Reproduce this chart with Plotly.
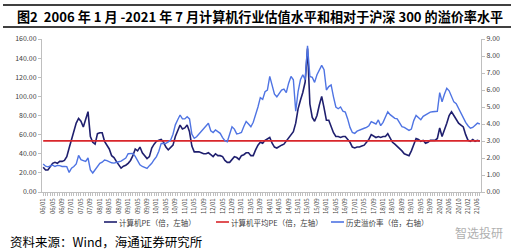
import plotly.graph_objects as go

# ---- categories: monthly, 2006/01 - 2021/07 (2020/01 absent in source) ----
months = []
for yr in range(2006, 2022):
    for mo in range(1, 13):
        if (yr, mo) == (2020, 1):
            continue
        if yr == 2021 and mo > 7:
            break
        months.append(f"{yr % 100:02d}/{mo:02d}")

# 计算机PE (倍, 左轴)
pe = [26, 23, 23, 27, 30, 31, 30, 32, 32, 33, 37, 46, 55, 62, 72, 77, 74, 68, 76, 84,
      58, 52, 50, 61, 62, 62, 53, 49, 45, 38, 36, 32, 28, 25, 27, 28, 30, 33, 38, 45,
      43, 47, 41, 38, 35, 37, 46, 50, 53, 54, 55, 52, 47, 44, 46, 49, 58, 65, 70, 66,
      67, 70, 63, 48, 42, 42, 42, 41, 40, 40, 41, 39, 37, 40, 38, 38, 37, 33, 31, 31,
      34, 37, 36, 34, 38, 39, 41, 41, 38, 38, 44, 49, 52, 51, 54, 56, 57, 51, 47, 46,
      48, 49, 50, 53, 57, 60, 63, 72, 87, 96, 104, 115, 150, 92, 78, 74, 80, 91, 100, 88,
      75, 75, 68, 62, 58, 58, 57, 58, 58, 55, 52, 47, 46, 47, 47, 48, 49, 52, 55, 60,
      58, 57, 58, 57, 58, 58, 61, 57, 52, 50, 48, 46, 43, 40, 39, 38, 43, 50, 56, 55,
      53, 54, 51, 52, 54, 54, 54, 56, 67, 58, 64, 72, 80, 84, 80, 76, 72, 70, 68, 60,
      54, 53, 55, 53, 54, 53]

# 计算机平均PE (倍, 左轴)
pe_avg_value = 53.5
pe_avg = [pe_avg_value] * len(months)

# 历史溢价率 (倍, 右轴)
premium = [1.65, 1.52, 1.48, 1.55, 1.58, 1.50, 1.56, 1.55, 1.50, 1.50, 1.49, 1.15, 1.40, 1.50, 1.65, 2.15, 1.90, 1.85, 1.80, 2.00,
           1.30, 1.12, 1.30, 1.50, 1.69, 1.75, 1.88, 1.85, 1.78, 1.72, 1.70, 1.72, 1.78, 1.82, 1.90, 2.00, 2.25, 2.27, 2.27, 2.10,
           1.85, 1.60, 1.50, 1.45, 1.39, 1.55, 1.69, 1.90, 2.08, 2.40, 2.86, 2.85, 2.86, 2.95, 3.05, 3.40, 3.95, 4.25, 4.53, 4.30,
           4.30, 4.43, 4.30, 3.40, 3.16, 3.25, 3.40, 3.55, 3.75, 3.90, 4.04, 3.60, 3.50, 3.65, 3.55, 3.45, 3.20, 3.02, 2.96, 3.40,
           3.84, 3.70, 3.42, 3.45, 3.50, 3.85, 4.15, 4.00, 3.84, 4.10, 4.50, 5.00, 5.55, 5.45, 5.90, 6.00, 6.80, 6.30, 5.75, 5.60,
           5.80, 6.00, 6.05, 5.85, 6.40, 6.80, 6.60, 4.75, 5.90, 6.60, 6.90, 6.60, 8.60, 6.80, 6.75, 6.45, 6.90, 7.20, 7.45, 7.20,
           6.00, 6.20, 6.30, 5.60, 5.00, 4.90, 5.00, 4.75, 4.70, 4.30, 3.80, 3.50, 3.45, 3.58, 3.65, 3.72, 3.75, 3.80, 3.90, 4.14,
           4.05, 4.00, 4.24, 3.90, 4.10, 4.45, 4.72, 4.55, 4.45, 4.33, 4.30, 4.05, 3.84, 3.80, 3.70, 3.62, 3.70, 4.20, 4.50, 4.40,
           4.25, 4.45, 4.53, 4.60, 4.70, 4.72, 4.72, 4.75, 5.85, 5.31, 5.75, 6.10, 5.95, 5.60, 5.30, 5.20, 4.90, 4.60, 4.35, 4.10,
           3.90, 3.75, 3.80, 3.95, 4.05, 4.00]

series_names = ["计算机PE（倍，左轴）", "计算机平均PE（倍，左轴）", "历史溢价率（倍，右轴）"]
series_colors = ["#1F1F6E", "#D9262B", "#4F74E3"]

tick_step = 4
tick_idx = list(range(0, len(months), tick_step))
tick_labels = [months[i] for i in tick_idx]
xs = list(range(len(months)))

title_text = "图2  2006 年 1 月 -2021 年 7 月计算机行业估值水平和相对于沪深 300 的溢价率水平"
source_text = "资料来源：Wind，海通证券研究所"

CJK = "Noto Sans CJK SC"
AX = "#BFBFBF"
TXT = "#404040"

fig = go.Figure()
fig.add_trace(go.Scatter(x=xs, y=pe, mode="lines", name=series_names[0],
                         line=dict(color=series_colors[0], width=1.6)))
fig.add_trace(go.Scatter(x=xs, y=pe_avg, mode="lines", name=series_names[1],
                         line=dict(color=series_colors[1], width=1.6)))
fig.add_trace(go.Scatter(x=xs, y=premium, mode="lines", name=series_names[2],
                         line=dict(color=series_colors[2], width=1.4), yaxis="y2"))

L, R, T, B = 42, 34, 39, 60
W, H = 515, 252
pw, ph = W - L - R, H - T - B


def px(x):
    return (x - L) / pw


def py(y):
    return (H - B - y) / ph


shapes = [
    dict(type="line", xref="paper", yref="paper", x0=px(3), x1=px(511), y0=py(5), y1=py(5),
         line=dict(color="#000000", width=1.5)),
    dict(type="line", xref="paper", yref="paper", x0=px(3), x1=px(511), y0=py(27), y1=py(27),
         line=dict(color="#000000", width=1.5)),
]
annotations = [
    dict(text="<b>" + title_text + "</b>", xref="paper", yref="paper", x=px(15), y=py(16),
         xanchor="left", yanchor="middle", showarrow=False,
         font=dict(family=CJK, size=13.1, color="#000000")),
    dict(text=source_text, xref="paper", yref="paper", x=px(8), y=py(241),
         xanchor="left", yanchor="middle", showarrow=False,
         font=dict(family=CJK, size=12.5, color="#000000")),
    dict(text="智选投研", xref="paper", yref="paper", x=px(505), y=py(232),
         xanchor="right", yanchor="middle", showarrow=False,
         font=dict(family=CJK, size=12, color="#B0B0B0")),
]

# manual legend (line sample + label)
leg_x = [104, 216, 331]
leg_y = 222
for name, col, lx in zip(series_names, series_colors, leg_x):
    shapes.append(dict(type="line", xref="paper", yref="paper", x0=px(lx), x1=px(lx + 13),
                       y0=py(leg_y), y1=py(leg_y), line=dict(color=col, width=1.6)))
    annotations.append(dict(text=name, xref="paper", yref="paper", x=px(lx + 13), y=py(leg_y),
                            xanchor="left", yanchor="middle", showarrow=False,
                            font=dict(family=CJK, size=7.5, color=TXT)))

fig.update_layout(
    width=W, height=H,
    margin=dict(l=L, r=R, t=T, b=B, pad=0),
    paper_bgcolor="white", plot_bgcolor="white",
    font=dict(family=CJK, size=7, color=TXT),
    showlegend=False,
    xaxis=dict(range=[-0.5, len(months) - 0.5], tickmode="array", tickvals=tick_idx,
               ticktext=tick_labels, tickangle=-90, tickfont=dict(size=6, color=TXT),
               showgrid=False, zeroline=False, showline=True, linecolor=AX, linewidth=1,
               ticks="outside", ticklen=3, tickcolor=AX,
               minor=dict(tickmode="linear", tick0=0, dtick=1, ticks="outside", ticklen=3, tickcolor=AX)),
    yaxis=dict(range=[0, 160], dtick=20, tickformat=".2f", showgrid=False, zeroline=False,
               showline=True, linecolor=AX, ticks="outside", ticklen=3, tickcolor=AX,
               tickfont=dict(size=7, color=TXT)),
    yaxis2=dict(range=[0, 9], dtick=1, tickformat=".2f", overlaying="y", side="right",
                showgrid=False, zeroline=False, showline=True, linecolor=AX,
                ticks="outside", ticklen=3, tickcolor=AX, tickfont=dict(size=7, color=TXT)),
    shapes=shapes,
    annotations=annotations,
)

fig.write_html("out.html")
